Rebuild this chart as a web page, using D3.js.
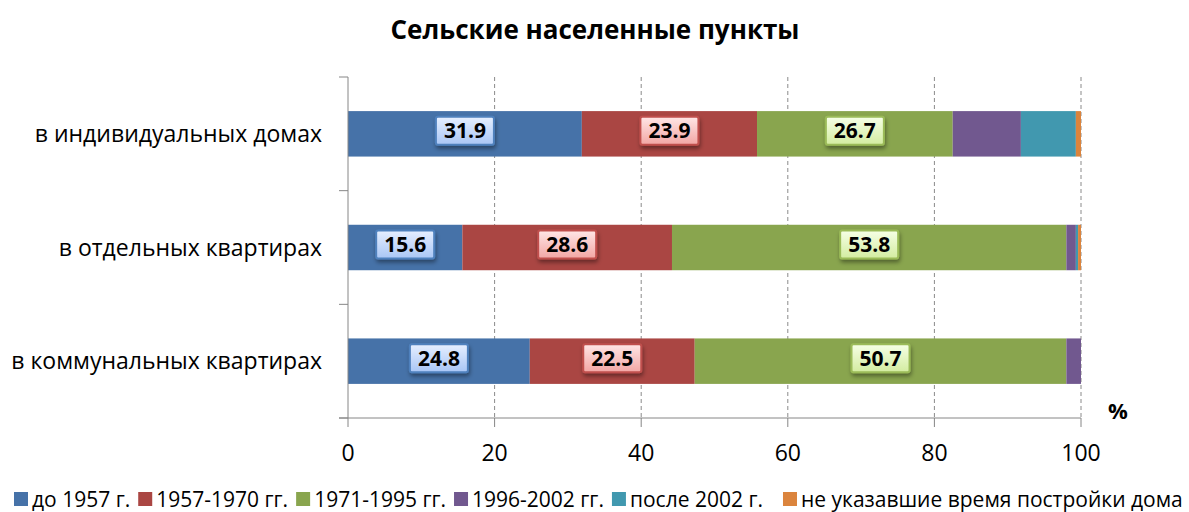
<!DOCTYPE html>
<html>
<head>
<meta charset="utf-8">
<script src="https://cdn.jsdelivr.net/npm/d3@7"></script>
<style>
  body { margin: 0; background: #fff; }
  text { font-family: "Open Sans", "DejaVu Sans", sans-serif; }
</style>
</head>
<body>
<div id="chart"></div>
<script>
// data
var categories = ["в индивидуальных домах", "в отдельных квартирах", "в коммунальных квартирах"];
var seriesNames = ["до 1957 г.", "1957-1970 гг.", "1971-1995 гг.", "1996-2002 гг.", "после 2002 г.", "не указавшие время постройки дома"];
var before1957 = [31.9, 15.6, 24.8];
var y1957_1970 = [23.9, 28.6, 22.5];
var y1971_1995 = [26.7, 53.8, 50.7];
var y1996_2002 = [9.3, 1.3, 2.0];
var after2002 = [7.5, 0.3, 0];
var notStated = [0.7, 0.4, 0];
var xTicks = [0, 20, 40, 60, 80, 100];

var colors = ["#4672A8", "#AA4643", "#89A54E", "#71588F", "#4198AF", "#DB843D"];
var labelFill = [["#e6efff", "#a9c6f5"], ["#ffe6e6", "#f2a6a4"], ["#f6ffe6", "#d3eca0"]];
var labelStroke = ["#4F81BD", "#C0504D", "#9BBB59"];

var width = 1189, height = 512;
var margin = { left: 348, right: 108, top: 77, bottom: 94 };

var svg = d3.select("#chart").append("svg")
    .attr("width", width)
    .attr("height", height);

var defs = svg.append("defs");
labelFill.forEach(function (c, i) {
    var g = defs.append("linearGradient").attr("id", "lg" + i)
        .attr("x1", 0).attr("y1", 0).attr("x2", 0).attr("y2", 1);
    g.append("stop").attr("offset", "0%").attr("stop-color", c[0]);
    g.append("stop").attr("offset", "100%").attr("stop-color", c[1]);
});
var shadow = defs.append("filter").attr("id", "shadow")
    .attr("x", "-20%").attr("y", "-20%").attr("width", "150%").attr("height", "170%");
shadow.append("feDropShadow").attr("dx", 1).attr("dy", 3).attr("stdDeviation", 2)
    .attr("flood-color", "#000").attr("flood-opacity", 0.4);

var x = d3.scaleLinear().domain([0, 100]).range([margin.left, width - margin.right]);
var y = d3.scaleBand().domain(categories)
    .range([margin.top, height - margin.bottom])
    .paddingInner(0.6).paddingOuter(0.3);

// title
svg.append("text")
    .attr("x", 595).attr("y", 39)
    .attr("text-anchor", "middle")
    .style("font-size", "26px").style("font-weight", "bold")
    .text("Сельские населенные пункты");

// gridlines
svg.append("g").selectAll("line")
    .data(xTicks.filter(function (d) { return d > 0; }))
    .enter().append("line")
    .attr("x1", function (d) { return x(d); })
    .attr("x2", function (d) { return x(d); })
    .attr("y1", margin.top)
    .attr("y2", height - margin.bottom)
    .attr("stroke", "#8a8a8a")
    .attr("stroke-dasharray", "4,3");

// stacked bars
var values = [before1957, y1957_1970, y1971_1995, y1996_2002, after2002, notStated];
var rows = categories.map(function (c, i) {
    var r = { cat: c };
    seriesNames.forEach(function (s, j) { r[s] = values[j][i]; });
    return r;
});
var stacked = d3.stack().keys(seriesNames)(rows);

var layers = svg.append("g").selectAll("g")
    .data(stacked)
    .enter().append("g")
    .attr("fill", function (d, i) { return colors[i]; });

layers.selectAll("rect")
    .data(function (d) { return d; })
    .enter().append("rect")
    .attr("x", function (d) { return x(d[0]); })
    .attr("y", function (d) { return y(d.data.cat); })
    .attr("width", function (d) { return Math.max(0, x(d[1]) - x(d[0])); })
    .attr("height", y.bandwidth());

// axes
var axisColor = "#868686";
var yAxis = svg.append("g");
yAxis.append("line")
    .attr("x1", x(0)).attr("x2", x(0))
    .attr("y1", margin.top).attr("y2", height - margin.bottom)
    .attr("stroke", axisColor);
var yTickPos = [margin.top].concat(categories.map(function (c) { return y(c) + y.bandwidth() + y.step() * y.paddingInner() / 2; }));
yAxis.selectAll(".yt").data(yTickPos).enter().append("line")
    .attr("x1", x(0) - 9).attr("x2", x(0))
    .attr("y1", function (d) { return d; }).attr("y2", function (d) { return d; })
    .attr("stroke", axisColor);

svg.append("g").selectAll("text")
    .data(categories).enter().append("text")
    .attr("x", 322)
    .attr("y", function (d) { return y(d) + y.bandwidth() / 2; })
    .attr("dy", "0.35em")
    .attr("text-anchor", "end")
    .style("font-size", "23px")
    .text(function (d) { return d; });

var xAxis = svg.append("g").attr("transform", "translate(0," + (height - margin.bottom) + ")");
xAxis.append("line")
    .attr("x1", x(0) - 9).attr("x2", x(100))
    .attr("stroke", axisColor);
xAxis.selectAll(".xt").data(xTicks).enter().append("line")
    .attr("x1", function (d) { return x(d); }).attr("x2", function (d) { return x(d); })
    .attr("y1", 0).attr("y2", 9)
    .attr("stroke", axisColor);
xAxis.selectAll("text").data(xTicks).enter().append("text")
    .attr("x", function (d) { return x(d); })
    .attr("y", 43)
    .attr("text-anchor", "middle")
    .style("font-size", "23px")
    .text(function (d) { return d; });

svg.append("text")
    .attr("x", 1118).attr("y", 419)
    .attr("text-anchor", "middle")
    .style("font-size", "22px").style("font-weight", "bold")
    .text("%");

// data labels for first three series
var labels = svg.append("g");
stacked.slice(0, 3).forEach(function (layer, i) {
    layer.forEach(function (d) {
        var cx = x((d[0] + d[1]) / 2);
        var cy = y(d.data.cat) + y.bandwidth() / 2 - 3;
        var g = labels.append("g");
        var t = g.append("text")
            .attr("x", cx).attr("y", cy)
            .attr("dy", "0.36em")
            .attr("text-anchor", "middle")
            .style("font-size", "21px").style("font-weight", "bold")
            .text(d3.format(".1f")(d[1] - d[0]));
        var w = t.node().getComputedTextLength() + 16;
        var h = 28;
        g.insert("rect", "text")
            .attr("x", cx - w / 2).attr("y", cy - h / 2)
            .attr("width", w).attr("height", h)
            .attr("rx", 2)
            .attr("fill", "url(#lg" + i + ")")
            .attr("stroke", labelStroke[i])
            .attr("stroke-width", 2)
            .attr("filter", "url(#shadow)");
    });
});

// legend
var legend = svg.append("g");
var lx = 14;
seriesNames.forEach(function (s, i) {
    legend.append("rect")
        .attr("x", lx).attr("y", 492)
        .attr("width", 14).attr("height", 14)
        .attr("fill", colors[i]);
    var t = legend.append("text")
        .attr("x", lx + 18).attr("y", 507)
        .style("font-size", "21px")
        .text(s);
    lx += 18 + t.node().getComputedTextLength() + (i === 4 ? 20 : 8);
});
</script>
</body>
</html>
